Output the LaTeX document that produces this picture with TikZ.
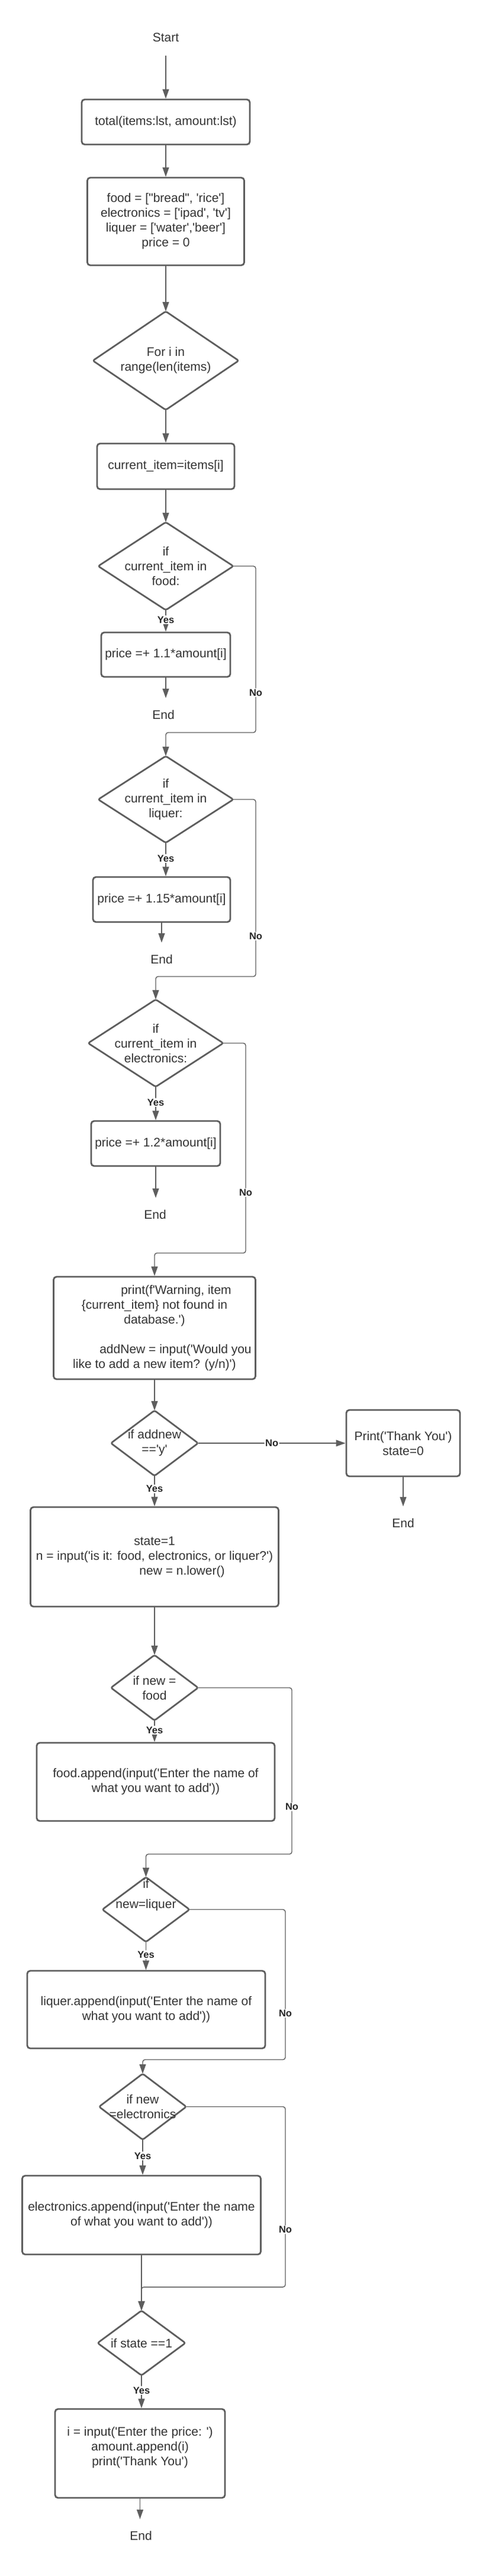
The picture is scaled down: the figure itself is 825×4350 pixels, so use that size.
\documentclass[tikz,border=0pt]{standalone}
\usepackage{fontspec}
\newfontfamily\lsans{Liberation Sans}
\usetikzlibrary{arrows.meta}
\definecolor{linec}{HTML}{5E5E5E}
\definecolor{txt}{HTML}{333333}
\newcommand\mainf{\lsans\fontsize{21}{25}\selectfont}
\newcommand\labf{\lsans\bfseries\fontsize{16.5}{19}\selectfont}
\begin{document}
\begin{tikzpicture}[x=1pt,y=-1pt,
  box/.style 2 args={rectangle, draw=linec, line width=2.8pt, rounded corners=5pt, fill=white,
    align=center, font=\mainf, text=txt, inner sep=0pt, minimum width=#1, minimum height=#2},
  dia/.style 2 args={rectangle, align=center, font=\mainf, text=txt, inner sep=0pt,
    minimum width=#1, minimum height=#2,
    append after command={\pgfextra{\let\dln\tikzlastnode
      \draw[draw=linec, line width=2.8pt, rounded corners=3pt, line join=round]
        (\dln.north) -- (\dln.east) -- (\dln.south) -- (\dln.west) -- cycle;}}},
  term/.style={font=\mainf, text=txt, inner sep=0pt, minimum height=56pt},
  arr/.style={draw=linec, line width=1.4pt, rounded corners=4pt,
    -{Triangle[length=16pt,width=11pt]}},
  lab/.style={fill=white, font=\labf, text=black!85, inner sep=1.5pt},
]
\fill[white] (0,0) rectangle (825,4350);
\useasboundingbox (0,0) rectangle (825,4350);

% nodes
\node[term, minimum height=62pt] (start) at (280,63) {Start};
\node[box={284pt}{76pt}] (b1) at (280,206) {total(items:lst, amount:lst)};
\node[box={265pt}{148pt}] (b2) at (280,374) {food = ["bread", 'rice']\\electronics = ['ipad', 'tv']\\liquer = ['water','beer']\\price = 0};
\node[dia={246pt}{166pt}] (d1) at (280,609) {For i in\\range(len(items)};
\node[box={232pt}{77pt}] (b3) at (280,787.5) {current\_item=items[i]};
\node[dia={228pt}{148pt}] (d2) at (280,956) {if\\current\_item in\\food:};
\node[box={218pt}{75pt}] (b4) at (280,1105.5) {price =+ 1.1*amount[i]};
\node[term] (e1) at (276,1207) {End};
\node[dia={228pt}{146pt}] (d3) at (280,1350) {if\\current\_item in\\liquer:};
\node[box={232pt}{76pt}] (b5) at (273,1519) {price =+ 1.15*amount[i]};
\node[term] (e2) at (273,1620) {End};
\node[dia={228pt}{147pt}] (d4) at (263,1761.5) {if\\current\_item in\\electronics:};
\node[box={218pt}{76pt}] (b6) at (263,1931) {price =+ 1.2*amount[i]};
\node[term] (e3) at (262,2051) {End};
\node[box={341pt}{173pt}] (b7) at (261,2242.5) {\hspace*{73pt}print(f'Warning, item\\\{current\_item\} not found in\\database.')\\ \mbox{}\\\hspace*{71pt}addNew = input('Would you\\like to add a new item? (y/n)')};
\node[dia={147pt}{110pt}] (d5) at (261,2437) {if addnew\\=='y'};
\node[box={192pt}{112pt}] (b8) at (681,2437) {Print('Thank You')\\state=0};
\node[term] (e4) at (681,2572) {End};
\node[box={419pt}{168pt}] (b9) at (261,2629) {state=1\\n = input('is it: food, electronics, or liquer?')\\\hspace*{93pt}new = n.lower()};
\node[dia={147pt}{110pt}] (d6) at (261,2850) {if new =\\food};
\node[box={402pt}{132pt}] (b10) at (263,3009) {food.append(input('Enter the name of\\what you want to add'))};
\node[dia={147pt}{109pt}] (d7) at (246.5,3224.5) {};
\node[font=\mainf, text=txt, align=center, inner sep=0pt] (d7t) at ([yshift=24.5pt]d7.center) {if\\[9pt]new=liquer};
\node[box={402pt}{131pt}] (b11) at (247,3393.5) {liquer.append(input('Enter the name of\\what you want to add'))};
\node[dia={147pt}{111pt}] (d8) at (241,3557.5) {if new\\=electronics};
\node[box={403pt}{133pt}] (b12) at (239,3740.5) {electronics.append(input('Enter the name\\of what you want to add'))};
\node[dia={148pt}{109pt}] (d9) at (239,3956.5) {if state ==1};
\node[box={287pt}{150pt}] (b13) at (236.5,4143) {i = input('Enter the price: ')\\amount.append(i)\\print('Thank You')\\ \mbox{}};
\node[term] (e5) at (238,4282) {End};

% bend points
\coordinate (c2) at (432,1237);
\coordinate (c3) at (432,1649);
\coordinate (c4) at (415,2116);
\coordinate (c6) at (493,3131);
\coordinate (c7) at (482,3478);
\coordinate (c8) at (482,3862);

% connectors
\draw[arr] (start.south) -- (b1.north);
\draw[arr] (b1.south) -- (b2.north);
\draw[arr] (b2.south) -- (d1.north);
\draw[arr] (d1.south) -- (b3.north);
\draw[arr] (b3.south) -- (d2.north);
\draw[arr] (d2.south) -- node[lab,pos=0.45]{Yes} (b4.north);
\draw[arr] (b4.south) -- (b4.south |- e1.north);
\draw[arr] (d2.east) -| node[lab,pos=0.88]{No} (c2) -| (d3.north);
\draw[arr] (d3.south) -- node[lab,pos=0.47]{Yes} (d3.south |- b5.north);
\draw[arr] (b5.south) -- (e2.north);
\draw[arr] (d3.east) -| node[lab,pos=0.886]{No} (c3) -| (d4.north);
\draw[arr] (d4.south) -- node[lab,pos=0.47]{Yes} (b6.north);
\draw[arr] (b6.south) -- (b6.south |- e3.north);
\draw[arr] (d4.east) -| node[lab,pos=0.856]{No} (c4) -| (b7.north);
\draw[arr] (b7.south) -- (d5.north);
\draw[arr] (d5.east) -- node[lab]{No} (b8.west);
\draw[arr] (b8.south) -- (e4.north);
\draw[arr] (d5.south) -- node[lab,pos=0.43]{Yes} (b9.north);
\draw[arr] (b9.south) -- (d6.north);
\draw[arr] (d6.south) -- node[lab,pos=0.45]{Yes} (d6.south |- b10.north);
\draw[arr] (d6.east) -| node[lab,pos=0.858]{No} (c6) -| (d7.north);
\draw[arr] (d7.south) -- node[lab,pos=0.45]{Yes} (d7.south |- b11.north);
\draw[arr] (d7.east) -| node[lab,pos=0.846]{No} (c7) -| (d8.north);
\draw[arr] (d8.south) -- node[lab,pos=0.46]{Yes} (d8.south |- b12.north);
\draw[arr] (b12.south) -- (d9.north);
\draw[arr] (d8.east) -| node[lab,pos=0.841]{No} (c8) -| (d9.north);
\draw[arr] (d9.south) -- node[lab,pos=0.46]{Yes} (b13.north -| d9.south);
\draw[arr] (b13.south) -- (b13.south |- e5.north);
\end{tikzpicture}
\end{document}
